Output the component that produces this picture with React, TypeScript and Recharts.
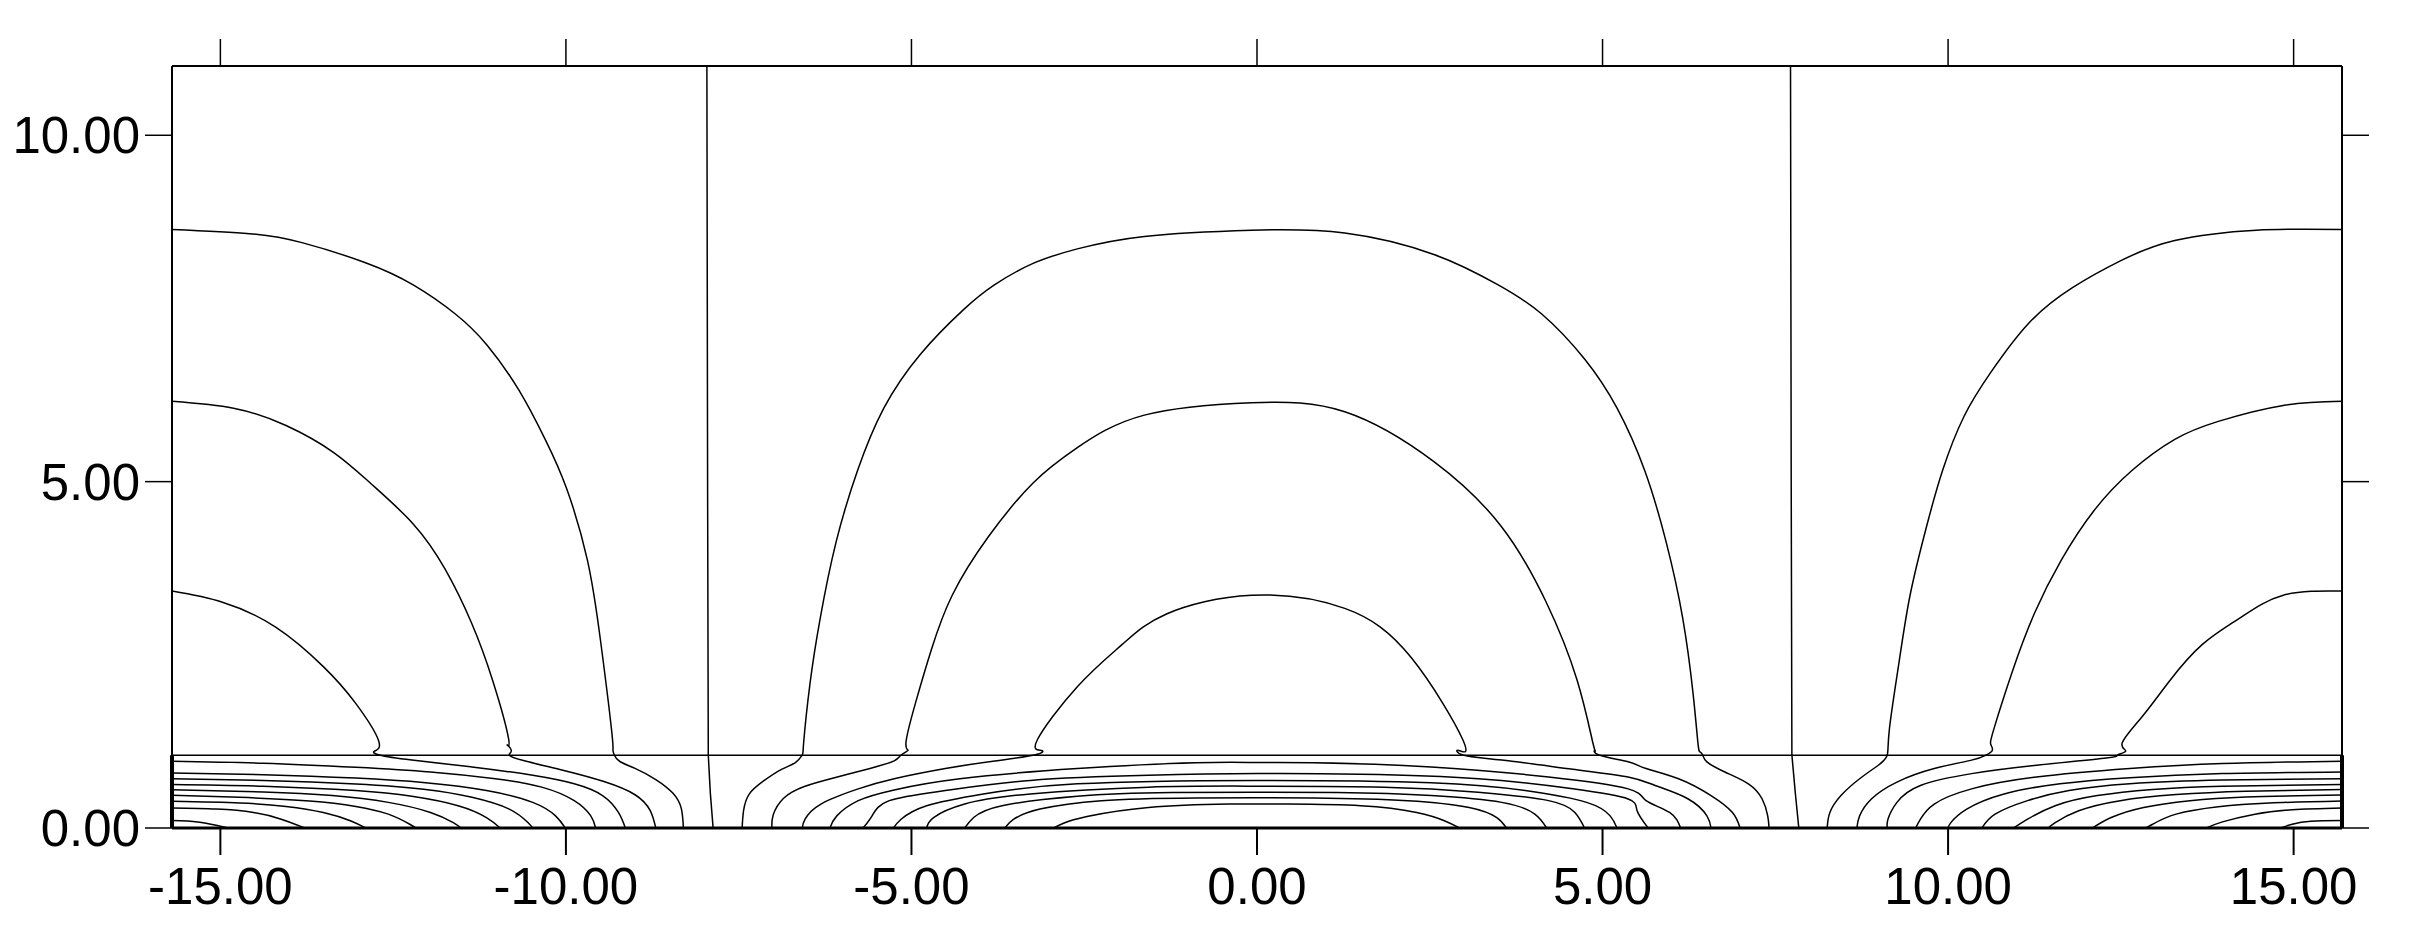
import { ComposedChart, Line, ReferenceLine, XAxis, YAxis } from 'recharts'

type Pt = [number, number]

// axes
const xTicks = [-15, -10, -5, 0, 5, 10, 15]
const yTicks = [0, 5, 10]
const xDomain: [number, number] = [-15.7, 15.7]
const yDomain: [number, number] = [0, 11]
const layerTop = 1.05

// left edge cell: arches above the layer, running on down through it
const leftEdgeOuter: Pt[] = [
  [-15.7, 8.64], [-14.58, 8.58], [-13.82, 8.45], [-12.9, 8.16], [-12.21, 7.84], [-11.6, 7.42],
  [-11.14, 6.97], [-10.68, 6.32], [-10.3, 5.61], [-9.99, 4.9], [-9.69, 3.87], [-9.5, 2.71],
  [-9.34, 1.42], [-9.32, 1.13], [-9.3, 1.053], [-9.22, 0.96], [-9.0, 0.86], [-8.7, 0.7],
  [-8.45, 0.5], [-8.33, 0.28], [-8.3, 0],
]
const leftEdgeMiddle: Pt[] = [
  [-15.7, 6.16], [-14.81, 6.06], [-14.05, 5.81], [-13.36, 5.42], [-12.82, 4.97], [-12.21, 4.39],
  [-11.75, 3.74], [-11.37, 2.97], [-11.06, 2.13], [-10.83, 1.29], [-10.85, 1.2], [-10.79, 1.12],
  [-10.82, 1.053], [-10.6, 0.97], [-10.03, 0.83], [-9.45, 0.67], [-9.0, 0.48], [-8.78, 0.25], [-8.7, 0],
]
const leftEdgeInner: Pt[] = [
  [-15.7, 3.42], [-14.97, 3.26], [-14.2, 2.9], [-13.51, 2.33], [-13.05, 1.81], [-12.71, 1.26],
  [-12.77, 1.11], [-12.7, 1.053], [-12.23, 0.98], [-11.36, 0.882], [-10.48, 0.76], [-9.88, 0.638],
  [-9.47, 0.468], [-9.24, 0.224], [-9.14, 0],
]
const leftLayer1: Pt[] = [[-15.7, 0.965], [-14.38, 0.936], [-13.04, 0.877], [-11.96, 0.809], [-11.02, 0.711], [-10.35, 0.59], [-9.88, 0.395], [-9.64, 0.175], [-9.57, 0]]
const leftLayer2: Pt[] = [[-15.7, 0.794], [-14.38, 0.77], [-13.04, 0.721], [-12.03, 0.653], [-11.15, 0.541], [-10.48, 0.37], [-10.15, 0.175], [-10.01, 0]]
const leftLayer3: Pt[] = [[-15.7, 0.711], [-14.38, 0.687], [-13.04, 0.634], [-12.03, 0.556], [-11.36, 0.443], [-10.82, 0.273], [-10.55, 0.078], [-10.48, 0]]
const leftLayer4: Pt[] = [[-15.7, 0.629], [-14.38, 0.604], [-13.04, 0.541], [-12.23, 0.458], [-11.56, 0.322], [-11.15, 0.151], [-10.95, 0]]
const leftLayer5: Pt[] = [[-15.7, 0.551], [-14.38, 0.521], [-13.38, 0.468], [-12.57, 0.37], [-11.96, 0.224], [-11.63, 0.078], [-11.52, 0]]
const leftLayer6: Pt[] = [[-15.7, 0.473], [-14.72, 0.443], [-13.71, 0.39], [-13.04, 0.312], [-12.57, 0.2], [-12.26, 0.054], [-12.17, 0]]
const leftLayer7: Pt[] = [[-15.7, 0.385], [-14.72, 0.361], [-14.05, 0.312], [-13.51, 0.224], [-13.11, 0.102], [-12.9, 0]]
const leftLayer8: Pt[] = [[-15.7, 0.288], [-15.06, 0.273], [-14.52, 0.224], [-14.12, 0.127], [-13.78, 0]]
const leftLayer9: Pt[] = [[-15.7, 0.107], [-15.33, 0.088], [-15.06, 0.039], [-14.89, 0]]

// centre cell
const centreOuter: Pt[] = [
  [-7.45, 0], [-7.43, 0.246], [-7.35, 0.486], [-7.14, 0.679], [-6.88, 0.847], [-6.68, 0.944],
  [-6.58, 1.053], [-6.56, 1.23], [-6.47, 2.07], [-6.32, 3.03], [-6.09, 4.13], [-5.78, 5.16],
  [-5.4, 6.06], [-4.87, 6.84], [-4.25, 7.48], [-3.8, 7.84], [-3.24, 8.15], [-2.6, 8.36],
  [-1.63, 8.54], [-0.08, 8.63], [1.27, 8.59], [2.56, 8.28], [3.49, 7.84], [4.12, 7.42],
  [4.74, 6.77], [5.21, 6.06], [5.61, 5.16], [5.92, 4.13], [6.16, 3.03], [6.31, 1.94],
  [6.38, 1.23], [6.41, 1.1], [6.45, 1.053], [6.51, 0.955], [6.77, 0.809], [7.11, 0.638],
  [7.31, 0.419], [7.39, 0.175], [7.41, 0],
]
const centreMiddle: Pt[] = [
  [-7.02, 0], [-7.0, 0.19], [-6.85, 0.43], [-6.55, 0.6], [-6.1, 0.73], [-5.6, 0.86], [-5.25, 0.97],
  [-5.15, 1.053], [-5.05, 1.12], [-5.08, 1.23], [-4.94, 1.81], [-4.71, 2.58], [-4.41, 3.36],
  [-3.89, 4.2], [-3.24, 4.98], [-2.6, 5.49], [-1.63, 5.96], [-0.08, 6.14],
  [1.27, 6.01], [2.56, 5.29], [3.53, 4.36], [4.18, 3.27], [4.63, 2.14], [4.86, 1.23],
  [4.89, 1.12], [4.95, 1.053], [5.37, 0.955], [5.63, 0.858], [6.1, 0.711], [6.57, 0.468],
  [6.88, 0.224], [6.99, 0],
]
const centreInner: Pt[] = [
  [-6.58, 0], [-6.54, 0.127], [-6.31, 0.346], [-5.77, 0.565], [-5.25, 0.711], [-4.51, 0.858],
  [-3.82, 0.965], [-3.22, 1.053], [-3.12, 1.12], [-3.18, 1.27], [-2.6, 2.04], [-1.95, 2.65],
  [-1.31, 3.09], [-0.08, 3.36], [1.27, 3.17], [2.24, 2.45], [2.98, 1.27], [2.92, 1.12],
  [2.98, 1.053], [3.54, 0.98], [4.57, 0.848], [5.37, 0.736], [5.76, 0.614], [6.24, 0.419],
  [6.51, 0.175], [6.57, 0],
]
const centreLayer1: Pt[] = [[-6.18, 0], [-6.08, 0.175], [-5.77, 0.395], [-5.25, 0.55], [-4.3, 0.711], [-2.6, 0.858], [-0.89, 0.941], [0, 0.945], [0.81, 0.941], [2.52, 0.882], [4.22, 0.736], [5.37, 0.565], [5.63, 0.395], [5.97, 0.224], [6.13, 0]]
const centreLayer2: Pt[] = [[-5.7, 0], [-5.57, 0.175], [-5.32, 0.395], [-4.51, 0.541], [-3.28, 0.687], [-1.57, 0.76], [0, 0.785], [1.5, 0.775], [3.2, 0.711], [4.57, 0.565], [5.37, 0.419], [5.5, 0.249], [5.66, 0]]
const centreLayer3: Pt[] = [[-5.26, 0], [-5.15, 0.127], [-4.78, 0.322], [-3.96, 0.492], [-2.6, 0.638], [0, 0.687], [2.52, 0.653], [3.88, 0.541], [4.77, 0.37], [5.11, 0.175], [5.21, 0]]
const centreLayer4: Pt[] = [[-4.78, 0], [-4.68, 0.151], [-4.23, 0.346], [-3.28, 0.492], [-1.57, 0.59], [0, 0.604], [1.84, 0.59], [3.2, 0.517], [4.22, 0.395], [4.6, 0.224], [4.74, 0]]
const centreLayer5: Pt[] = [[-4.23, 0], [-4.1, 0.151], [-3.69, 0.322], [-2.6, 0.458], [-1.23, 0.512], [1.15, 0.512], [2.52, 0.468], [3.54, 0.37], [4.02, 0.2], [4.19, 0]]
const centreLayer6: Pt[] = [[-3.65, 0], [-3.52, 0.127], [-3.14, 0.273], [-2.25, 0.395], [-0.89, 0.434], [0.81, 0.434], [2.18, 0.395], [3.07, 0.297], [3.47, 0.151], [3.61, 0]]
const centreLayer7: Pt[] = [[-2.94, 0], [-2.8, 0.068], [-2.46, 0.166], [-1.57, 0.297], [-0.41, 0.346], [0.4, 0.346], [1.5, 0.322], [2.31, 0.224], [2.72, 0.102], [2.93, 0]]

// right edge cell
const rightEdgeOuter: Pt[] = [
  [8.25, 0], [8.29, 0.224], [8.45, 0.468], [8.72, 0.711], [8.99, 0.906], [9.12, 1.053],
  [9.15, 1.42], [9.29, 2.39], [9.45, 3.36], [9.68, 4.32], [9.92, 5.16], [10.23, 5.94],
  [10.62, 6.58], [11.17, 7.29], [11.8, 7.8], [12.5, 8.19], [13.28, 8.48], [14.46, 8.63], [15.7, 8.64],
]
const rightEdgeMiddle: Pt[] = [
  [8.68, 0], [8.72, 0.175], [8.89, 0.419], [9.26, 0.663], [9.8, 0.858], [10.34, 0.98],
  [10.55, 1.053], [10.64, 1.12], [10.62, 1.2], [10.66, 1.42], [10.93, 2.26], [11.25, 3.1],
  [11.64, 3.87], [12.11, 4.58], [12.66, 5.16], [13.28, 5.61], [13.91, 5.87], [14.85, 6.1], [15.7, 6.16],
]
const rightEdgeInner: Pt[] = [
  [9.12, 0], [9.13, 0.127], [9.26, 0.37], [9.6, 0.614], [10.34, 0.785], [11.28, 0.906],
  [12.29, 1.01], [12.45, 1.053], [12.57, 1.11], [12.52, 1.23], [12.81, 1.61], [13.21, 2.13],
  [13.68, 2.65], [14.22, 3.03], [14.85, 3.36], [15.7, 3.42],
]
const rightLayer1: Pt[] = [[9.53, 0], [9.6, 0.127], [9.8, 0.346], [10.34, 0.565], [11.28, 0.736], [12.63, 0.858], [13.97, 0.931], [15.7, 0.965]]
const rightLayer2: Pt[] = [[10.0, 0], [10.04, 0.078], [10.27, 0.273], [10.81, 0.492], [11.62, 0.638], [12.63, 0.726], [13.97, 0.785], [15.7, 0.809]]
const rightLayer3: Pt[] = [[10.49, 0], [10.68, 0.2], [11.15, 0.395], [11.75, 0.541], [12.63, 0.638], [13.97, 0.692], [15.7, 0.711]]
const rightLayer4: Pt[] = [[10.95, 0], [11.15, 0.127], [11.55, 0.322], [12.16, 0.468], [12.96, 0.556], [13.97, 0.604], [15.7, 0.629]]
const rightLayer5: Pt[] = [[11.45, 0], [11.55, 0.078], [11.89, 0.249], [12.49, 0.395], [13.3, 0.482], [14.31, 0.531], [15.7, 0.556]]
const rightLayer6: Pt[] = [[12.09, 0], [12.36, 0.151], [12.83, 0.297], [13.5, 0.395], [14.31, 0.448], [15.7, 0.478]]
const rightLayer7: Pt[] = [[12.86, 0], [12.96, 0.054], [13.3, 0.2], [13.91, 0.307], [14.65, 0.361], [15.7, 0.39]]
const rightLayer8: Pt[] = [[13.74, 0], [13.97, 0.088], [14.44, 0.2], [14.98, 0.263], [15.7, 0.288]]
const rightLayer9: Pt[] = [[14.81, 0], [14.98, 0.054], [15.25, 0.097], [15.7, 0.107]]

// zero lines between the cells
const dividerLeft: Pt[] = [[-7.96, 11], [-7.95, 5], [-7.94, 1.053], [-7.91, 0.5], [-7.87, 0]]
const dividerRight: Pt[] = [[7.72, 11], [7.73, 5], [7.74, 1.053], [7.79, 0.5], [7.84, 0]]

const contours: Pt[][] = [
  leftEdgeOuter, leftEdgeMiddle, leftEdgeInner,
  leftLayer1, leftLayer2, leftLayer3, leftLayer4, leftLayer5, leftLayer6, leftLayer7, leftLayer8, leftLayer9,
  centreOuter, centreMiddle, centreInner,
  centreLayer1, centreLayer2, centreLayer3, centreLayer4, centreLayer5, centreLayer6, centreLayer7,
  rightEdgeOuter, rightEdgeMiddle, rightEdgeInner,
  rightLayer1, rightLayer2, rightLayer3, rightLayer4, rightLayer5, rightLayer6, rightLayer7, rightLayer8, rightLayer9,
]
const dividers: Pt[][] = [dividerLeft, dividerRight]

const toRows = (pts: Pt[]) => pts.map(([x, y]) => ({ x, y }))
const fmt = (v: number) => v.toFixed(2)
const font = { fill: '#000', fontSize: 51, fontFamily: '"Liberation Sans", Arial, sans-serif' }
const NoLabel = () => <g />

export default function App() {
  return (
    <div style={{ position: 'absolute', left: 0, top: 0, background: '#fff' }}>
      <ComposedChart width={2418} height={939} margin={{ top: 0, right: 0, bottom: 0, left: 0 }}>
        <XAxis
          xAxisId="b"
          type="number"
          dataKey="x"
          domain={xDomain}
          ticks={xTicks}
          allowDataOverflow
          interval={0}
          height={111}
          tickSize={27}
          tickMargin={13}
          tickLine={{ stroke: '#000', strokeWidth: 2 }}
          axisLine={{ stroke: '#000', strokeWidth: 3 }}
          tick={font}
          tickFormatter={fmt}
        />
        <XAxis
          xAxisId="t"
          orientation="top"
          type="number"
          dataKey="x"
          domain={xDomain}
          ticks={xTicks}
          allowDataOverflow
          interval={0}
          height={66}
          tickSize={27}
          tickLine={{ stroke: '#000', strokeWidth: 1.5 }}
          axisLine={{ stroke: '#000', strokeWidth: 2 }}
          tick={<NoLabel />}
        />
        <YAxis
          yAxisId="l"
          type="number"
          domain={yDomain}
          ticks={yTicks}
          allowDataOverflow
          interval={0}
          width={172}
          tickSize={27}
          tickMargin={5}
          tickLine={{ stroke: '#000', strokeWidth: 1.5 }}
          axisLine={{ stroke: '#000', strokeWidth: 2 }}
          tick={font}
          tickFormatter={fmt}
        />
        <YAxis
          yAxisId="r"
          orientation="right"
          type="number"
          domain={yDomain}
          ticks={yTicks}
          allowDataOverflow
          interval={0}
          width={76}
          tickSize={27}
          tickLine={{ stroke: '#000', strokeWidth: 1.5 }}
          axisLine={{ stroke: '#000', strokeWidth: 2 }}
          tick={<NoLabel />}
        />
        <ReferenceLine xAxisId="b" yAxisId="l" y={layerTop} stroke="#000" strokeWidth={1.6} />
        <ReferenceLine
          xAxisId="b"
          yAxisId="l"
          segment={[{ x: xDomain[0], y: 0 }, { x: xDomain[0], y: layerTop }]}
          stroke="#000"
          strokeWidth={4}
        />
        <ReferenceLine
          xAxisId="b"
          yAxisId="l"
          segment={[{ x: xDomain[1], y: 0 }, { x: xDomain[1], y: layerTop }]}
          stroke="#000"
          strokeWidth={4}
        />
        {contours.map((c, i) => (
          <Line
            key={`c${i}`}
            xAxisId="b"
            yAxisId="l"
            data={toRows(c)}
            dataKey="y"
            type="natural"
            stroke="#000"
            strokeWidth={1.5}
            dot={false}
            activeDot={false}
            isAnimationActive={false}
          />
        ))}
        {dividers.map((c, i) => (
          <Line
            key={`d${i}`}
            xAxisId="b"
            yAxisId="l"
            data={toRows(c)}
            dataKey="y"
            type="linear"
            stroke="#000"
            strokeWidth={1.5}
            dot={false}
            activeDot={false}
            isAnimationActive={false}
          />
        ))}
      </ComposedChart>
    </div>
  )
}
